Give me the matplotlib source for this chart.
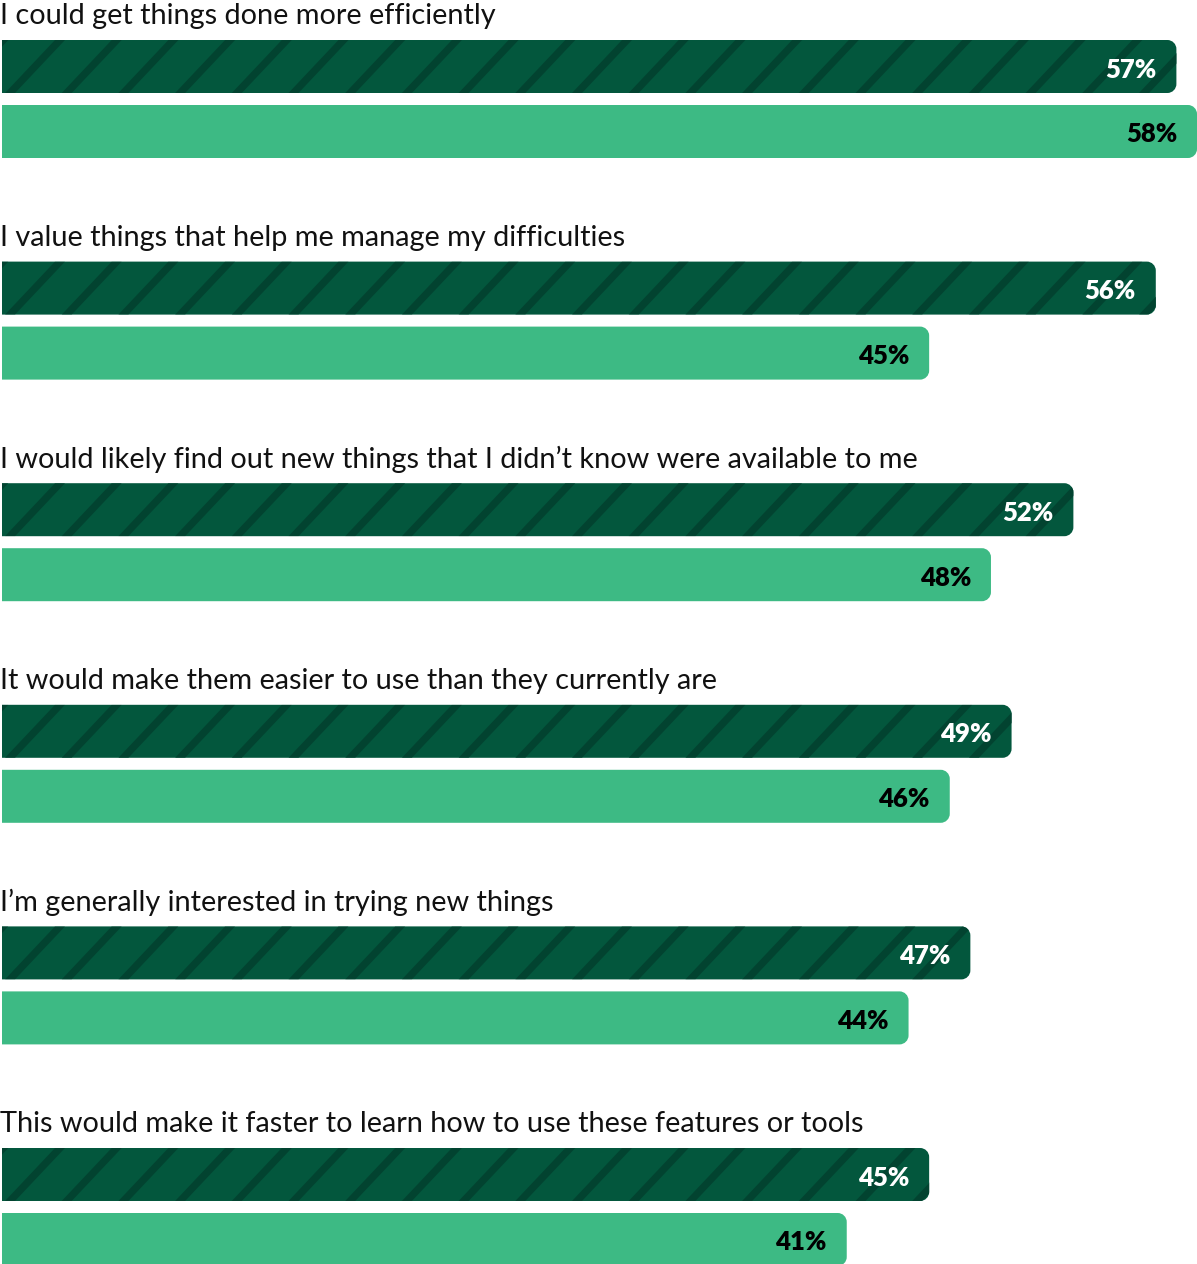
import numpy as np
import matplotlib
matplotlib.use("Agg")
import matplotlib.pyplot as plt
from matplotlib.path import Path
from matplotlib.patches import PathPatch, Polygon

categories = [
    "I could get things done more efficiently",
    "I value things that help me manage my difficulties",
    "I would likely find out new things that I didn\u2019t know were available to me",
    "It would make them easier to use than they currently are",
    "I\u2019m generally interested in trying new things",
    "This would make it faster to learn how to use these features or tools",
]
series_dark = [57, 56, 52, 49, 47, 45]
series_light = [58, 45, 48, 46, 44, 41]

DARK = "#03573d"
STRIPE = "#024330"
LIGHT = "#3dba84"

W, H = 1197, 1264
fig = plt.figure(figsize=(W / 100, H / 100), dpi=100)
ax = fig.add_axes([0, 0, 1, 1])

# scale: pixels per percent
x0 = 2
s = (W - x0) / 58.0
ax.set_xlim(-x0 / s, (W - x0) / s)
ax.set_ylim(H, 0)
ax.axis("off")

period = 221.6
first_top = 40
bar_h = 53
gap = 12
radius = 9


def rounded_bar(v, top, color):
    # right corners rounded, left square; radius given in px
    rx = radius / s
    ry = radius
    L, R = 0, v
    b = top + bar_h
    k = 0.5523
    verts = [
        (L, top), (R - rx, top),
        (R - rx + rx * k, top), (R, top + ry - ry * k), (R, top + ry),
        (R, b - ry),
        (R, b - ry + ry * k), (R - rx + rx * k, b), (R - rx, b),
        (L, b), (L, top),
    ]
    codes = [Path.MOVETO, Path.LINETO,
             Path.CURVE4, Path.CURVE4, Path.CURVE4,
             Path.LINETO,
             Path.CURVE4, Path.CURVE4, Path.CURVE4,
             Path.LINETO, Path.CLOSEPOLY]
    p = PathPatch(Path(verts, codes), facecolor=color, edgecolor="none")
    ax.add_patch(p)
    return p


for i, cat in enumerate(categories):
    top = first_top + i * period
    ax.text(-x0 / s, top - 24, cat, fontsize=20.8, family="Lato",
            color="#111111", va="center", ha="left")

    # dark striped bar
    patch = rounded_bar(series_dark[i], top, DARK)
    spacing = 56.7
    shift = 50
    sw = 10
    for k in range(-1, 24):
        bx = 5 + k * spacing
        poly = [((bx - x0) / s, top + bar_h), ((bx + sw - x0) / s, top + bar_h),
                ((bx + sw + shift - x0) / s, top), ((bx + shift - x0) / s, top)]
        st = Polygon(poly, closed=True, facecolor=STRIPE, edgecolor="none")
        ax.add_patch(st)
        st.set_clip_path(patch)
    ax.text(series_dark[i] - 20 / s, top + bar_h / 2 + 3, f"{series_dark[i]}%",
            fontsize=18.5, fontweight="heavy", family="Lato", color="white",
            ha="right", va="center")

    # light bar
    ltop = top + bar_h + gap
    rounded_bar(series_light[i], ltop, LIGHT)
    ax.text(series_light[i] - 20 / s, ltop + bar_h / 2 + 3, f"{series_light[i]}%",
            fontsize=18.5, fontweight="heavy", family="Lato", color="black",
            ha="right", va="center")

fig.savefig("out.png", dpi=100)
